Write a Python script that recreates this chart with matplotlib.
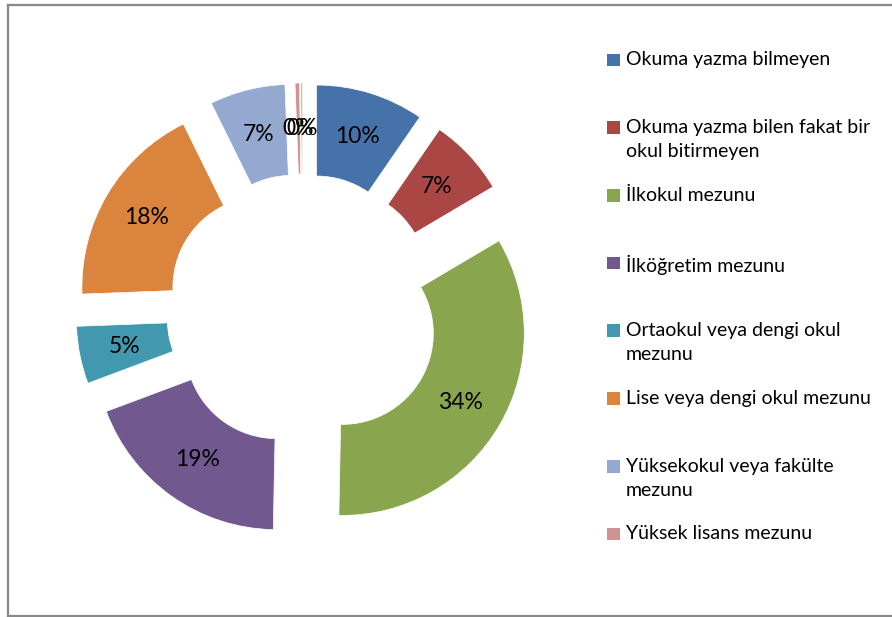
import matplotlib.pyplot as plt
from matplotlib.patches import Rectangle
from matplotlib.lines import Line2D

categories = [
    "Okuma yazma bilmeyen",
    "Okuma yazma bilen fakat bir\nokul bitirmeyen",
    "İlkokul mezunu",
    "İlköğretim mezunu",
    "Ortaokul veya dengi okul\nmezunu",
    "Lise veya dengi okul mezunu",
    "Yüksekokul veya fakülte\nmezunu",
    "Yüksek lisans mezunu",
    "Doktora mezunu",
]
values = [9.6, 6.9, 33.8, 19.0, 5.1, 18.3, 6.7, 0.4, 0.2]
colors = ["#4672AA", "#AA4643", "#89A54E", "#71588F", "#4198AF",
          "#DB843D", "#93A9CF", "#D19392", "#B9CD96"]
legend_count = 8  # the last entry is cut off in the original

plt.rcParams['font.family'] = ['Lato', 'DejaVu Sans']

W, H = 892, 617
fig = plt.figure(figsize=(W / 100, H / 100), dpi=100)

# frame
fig.add_artist(Line2D([8 / W, 8 / W], [0, 1 - 4.5 / H], transform=fig.transFigure,
                      color="#888888", lw=1.6))
fig.add_artist(Line2D([8 / W, 1], [1 - 4.5 / H, 1 - 4.5 / H], transform=fig.transFigure,
                      color="#888888", lw=1.6))
fig.add_artist(Line2D([8 / W, 1], [1.2 / H, 1.2 / H], transform=fig.transFigure,
                      color="#888888", lw=1.6))

# donut axes: centre (303, 310.5) px, outer radius 182 px
cx, cy, R, half = 303, 310.5, 182, 260
ax = fig.add_axes([(cx - half) / W, (H - cy - half) / H, 2 * half / W, 2 * half / H])
wedges, texts, autotexts = ax.pie(
    values, colors=colors, startangle=90, counterclock=False,
    explode=[0.25] * len(values), radius=1.0,
    wedgeprops=dict(width=0.5, edgecolor="white", linewidth=0.5),
    autopct="%.0f%%", pctdistance=0.75,
    textprops=dict(fontsize=16.5, color="black"),
)
ax.set_xlim(-half / R, half / R)
ax.set_ylim(-half / R, half / R)
ax.set_aspect("equal")
ax.axis("off")

# legend, drawn by hand to follow the spacing of the original
y0, step = 60, 67.7
for i in range(legend_count):
    y = y0 + i * step
    fig.add_artist(Rectangle(((607) / W, 1 - (y + 6.3) / H), 12.7 / W, 12.7 / H,
                             transform=fig.transFigure, facecolor=colors[i],
                             edgecolor="none"))
    fig.text(626 / W, 1 - (y - 8.5) / H, categories[i], fontsize=14,
             va="top", ha="left", linespacing=1.5, color="black")

fig.savefig("out.png", dpi=100)
